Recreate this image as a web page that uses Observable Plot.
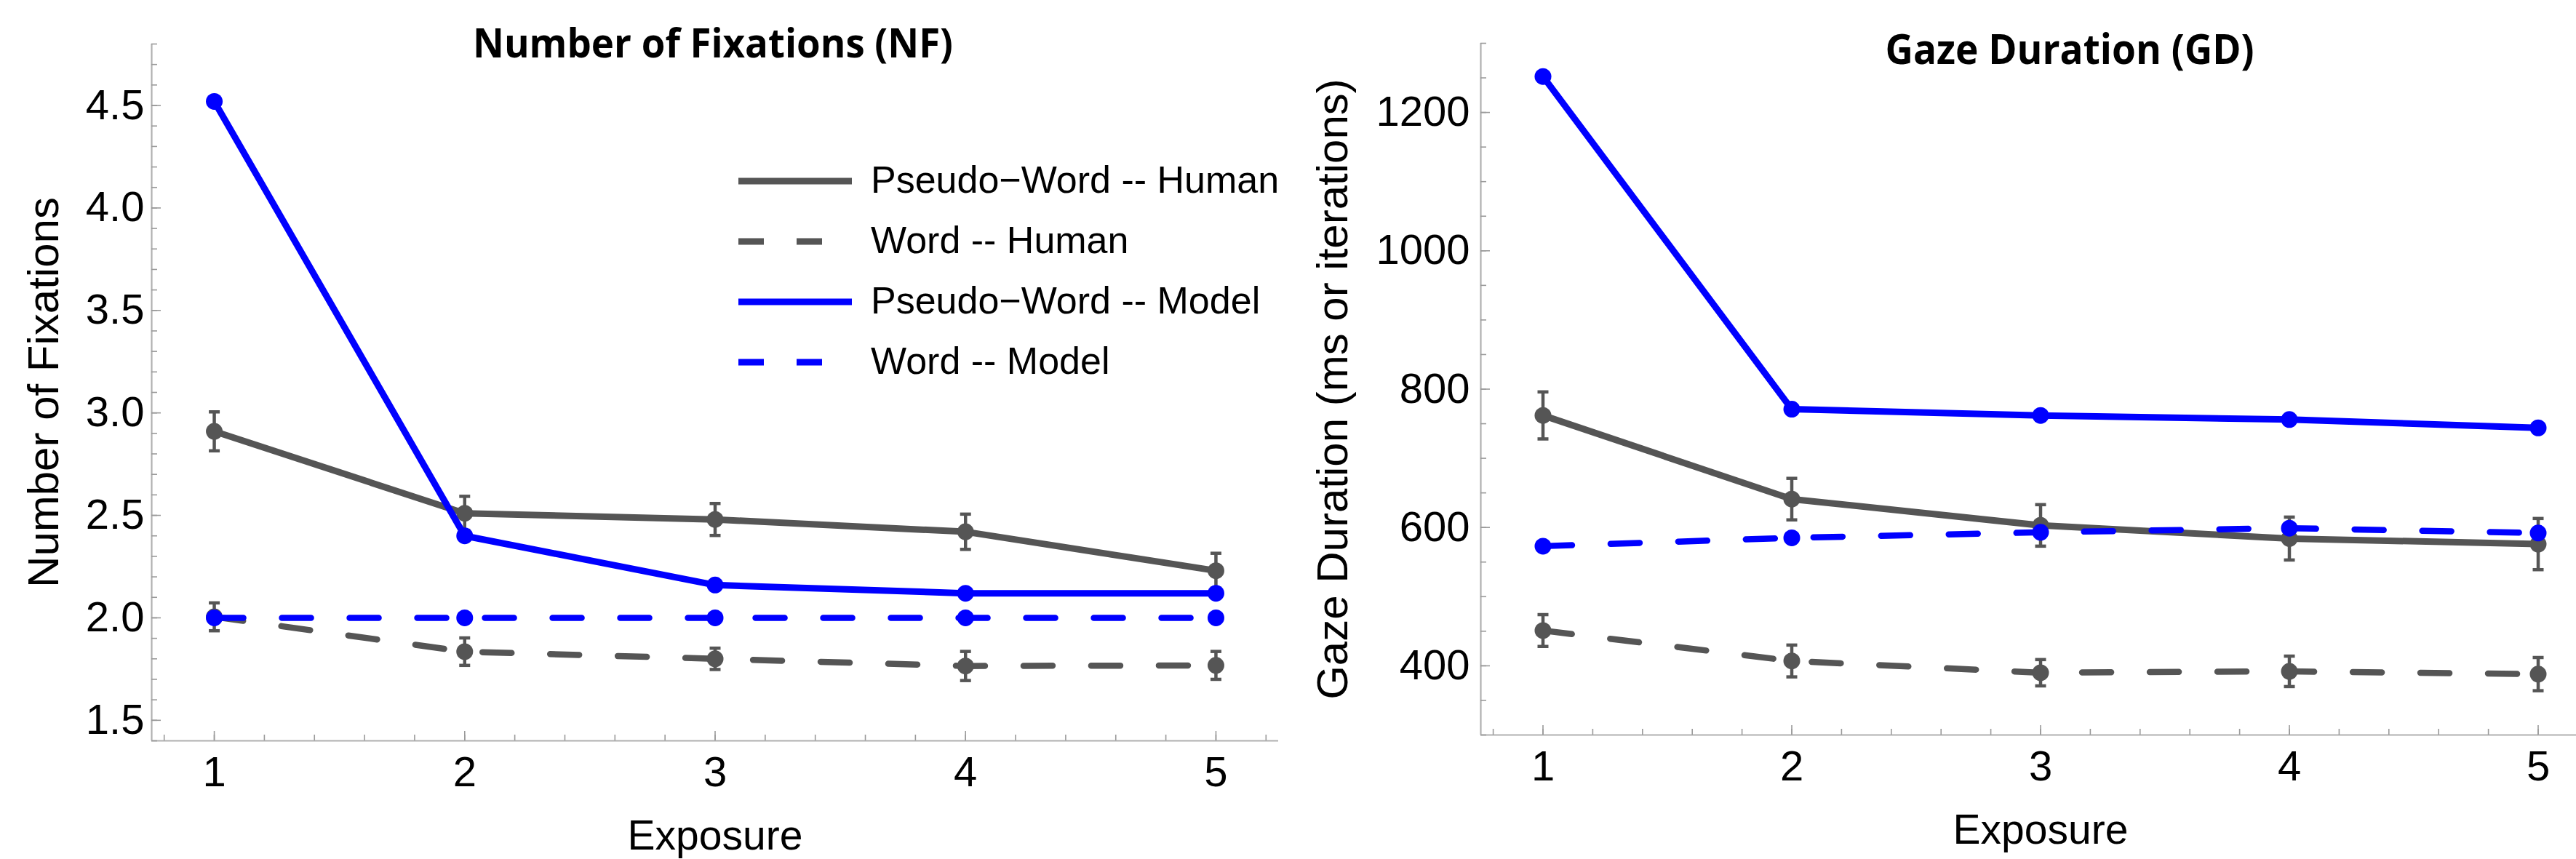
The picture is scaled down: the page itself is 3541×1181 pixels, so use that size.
<!DOCTYPE html>
<html><head><meta charset="utf-8">
<script src="https://cdn.jsdelivr.net/npm/d3@7"></script>
<script src="https://cdn.jsdelivr.net/npm/@observablehq/plot@0.6"></script>
<style>
html,body{margin:0;padding:0;background:#fff;overflow:hidden;width:3541px;height:1181px;}
#root{position:relative;width:3541px;height:1181px;overflow:hidden;background:#fff;}
.panel{position:absolute;top:0;}
</style></head><body><div id="root"></div>
<script>
// ---------- data ----------
const exposure = [1, 2, 3, 4, 5];
const seriesNames = ["Pseudo\u2212Word -- Human", "Word -- Human", "Pseudo\u2212Word -- Model", "Word -- Model"];

// Number of Fixations (NF)
const nfPseudoHuman    = [2.91, 2.51, 2.48, 2.42, 2.23];
const nfPseudoHumanErr = [0.095, 0.083, 0.078, 0.086, 0.085];
const nfWordHuman      = [2.005, 1.835, 1.80, 1.765, 1.768];
const nfWordHumanErr   = [0.068, 0.067, 0.052, 0.071, 0.068];
const nfPseudoModel    = [4.52, 2.40, 2.16, 2.12, 2.12];
const nfWordModel      = [2.0, 2.0, 2.0, 2.0, 2.0];

// Gaze Duration (GD)
const gdPseudoHuman    = [762, 641, 603, 584, 576];
const gdPseudoHumanErr = [34, 30, 30, 31, 37];
const gdWordHuman      = [451, 407, 390, 392, 388];
const gdWordHumanErr   = [23, 23, 19, 22, 24];
const gdPseudoModel    = [1252, 771, 762, 756, 744];
const gdWordModel      = [573, 585, 593, 599, 592];

// tick labels
const xTicks = [1, 2, 3, 4, 5];
const nfTicks = [1.5, 2.0, 2.5, 3.0, 3.5, 4.0, 4.5];
const gdTicks = [400, 600, 800, 1000, 1200];

// ---------- style ----------
const GRAY = "#555555", BLUE = "#0000ff", AXIS = "#b0b0b0", TICK = "#9a9a9a";
const FONT = "'Liberation Sans', Arial, Helvetica, sans-serif";

function rows(ys, errs) {
  return exposure.map((x, i) => ({x, y: ys[i], err: errs ? errs[i] : 0}));
}

const capSymbol = {
  draw(context, size) {
    const r = Math.sqrt(size / Math.PI);
    context.moveTo(-r, 0);
    context.lineTo(r, 0);
  }
};

function seriesMarks(data, color, dashed, withErr) {
  const m = [
    Plot.line(data, {x: "x", y: "y", stroke: color, strokeWidth: dashed ? 8.5 : 9,
      strokeDasharray: dashed ? "40,53" : null, strokeLinejoin: "round"})
  ];
  if (withErr) {
    m.push(
      Plot.ruleX(data, {x: "x", y1: d => d.y - d.err, y2: d => d.y + d.err, stroke: color, strokeWidth: 4.5}),
      Plot.dot(data, {x: "x", y: d => d.y + d.err, symbol: capSymbol, r: 7.5, fill: "none", stroke: color, strokeWidth: 4.5}),
      Plot.dot(data, {x: "x", y: d => d.y - d.err, symbol: capSymbol, r: 7.5, fill: "none", stroke: color, strokeWidth: 4.5})
    );
  }
  m.push(Plot.dot(data, {x: "x", y: "y", r: 11.5, fill: color, stroke: null}));
  return m;
}

function makePanel(o) {
  const fw = o.width - o.ml - o.mr, fh = o.height - o.mt - o.mb;
  const svg = Plot.plot({
    width: o.width, height: o.height,
    marginLeft: o.ml, marginRight: o.mr, marginTop: o.mt, marginBottom: o.mb,
    x: {domain: o.xDomain},
    y: {domain: o.yDomain},
    style: {fontFamily: FONT, fontSize: "58px", color: "black", background: "transparent", overflow: "visible"},
    marks: [
      Plot.ruleY([o.yDomain[0]], {stroke: AXIS, strokeWidth: 2.2}),
      Plot.ruleX([o.xDomain[0]], {stroke: AXIS, strokeWidth: 2.2}),
      Plot.tickY(o.yMinor, {y: d => d, stroke: TICK, strokeWidth: 1.6, insetRight: fw - 8}),
      Plot.tickY(o.yTicks, {y: d => d, stroke: TICK, strokeWidth: 1.6, insetRight: fw - 13}),
      Plot.tickX(o.xMinor, {x: d => d, stroke: TICK, strokeWidth: 1.6, insetTop: fh - 8}),
      Plot.tickX(xTicks, {x: d => d, stroke: TICK, strokeWidth: 1.6, insetTop: fh - 13}),
      Plot.axisY(o.yTicks, {tickSize: 0, tickPadding: o.yPad, tickFormat: o.yFormat, fontSize: 58, label: null}),
      Plot.axisX(xTicks, {tickSize: 0, tickPadding: 21, tickFormat: d => String(d), fontSize: 58, label: null}),
      ...o.series.flatMap(s => seriesMarks(s.data, s.color, s.dashed, s.err)),
      Plot.text([o.title], {text: d => d, frameAnchor: "top", lineAnchor: "bottom", textAnchor: "middle", dx: o.titleDx, dy: o.titleDy,
        fontFamily: "'Open Sans', 'Noto Sans', sans-serif", fontWeight: "bold", fontSize: o.titleSize, fill: "black"}),
      Plot.text(["Exposure"], {text: d => d, frameAnchor: "bottom", lineAnchor: "top", textAnchor: "middle", dy: 109, fontSize: 57, fill: "black"}),
      Plot.text([o.ylabel], {text: d => d, frameAnchor: "left", rotate: -90, lineAnchor: "middle", textAnchor: "middle", dx: o.ylabelDx, fontSize: 60, fill: "black"})
    ]
  });
  svg.querySelectorAll("text").forEach(t => {
    if (t.textContent === o.title) {
      t.setAttribute("textLength", o.titleLen);
      t.setAttribute("lengthAdjust", "spacingAndGlyphs");
    }
  });
  svg.classList.add("panel");
  svg.style.left = o.left + "px";
  return svg;
}

const root = document.getElementById("root");

const xMinor = d3.range(4, 27).map(d => d / 5);

root.appendChild(makePanel({
  left: 0, width: 1790, height: 1181, ml: 208, mr: 33, mt: 60, mb: 163,
  xDomain: [0.75, 5.25], yDomain: [1.4, 4.8],
  yTicks: nfTicks, yMinor: d3.range(14, 49).map(d => d / 10), xMinor,
  yFormat: d => d.toFixed(1), yPad: 10,
  title: "Number of Fixations (NF)", titleDx: -3, titleDy: 18, titleSize: 56, titleLen: 660,
  ylabel: "Number of Fixations", ylabelDx: -148,
  series: [
    {data: rows(nfPseudoHuman, nfPseudoHumanErr), color: GRAY, dashed: false, err: true},
    {data: rows(nfWordHuman, nfWordHumanErr), color: GRAY, dashed: true, err: true},
    {data: rows(nfPseudoModel), color: BLUE, dashed: false, err: false},
    {data: rows(nfWordModel), color: BLUE, dashed: true, err: false}
  ]
}));

root.appendChild(makePanel({
  left: 1790, width: 1784, height: 1181, ml: 245, mr: 0, mt: 59, mb: 171,
  xDomain: [0.75, 5.25], yDomain: [300, 1300],
  yTicks: gdTicks, yMinor: d3.range(300, 1301, 50), xMinor,
  yFormat: d3.format("d"), yPad: 15,
  title: "Gaze Duration (GD)", titleDx: 40, titleDy: 28, titleSize: 57, titleLen: 507,
  ylabel: "Gaze Duration (ms or iterations)", ylabelDx: -203,
  series: [
    {data: rows(gdPseudoHuman, gdPseudoHumanErr), color: GRAY, dashed: false, err: true},
    {data: rows(gdWordHuman, gdWordHumanErr), color: GRAY, dashed: true, err: true},
    {data: rows(gdPseudoModel), color: BLUE, dashed: false, err: false},
    {data: rows(gdWordModel), color: BLUE, dashed: true, err: false}
  ]
}));

// ---------- legend (inside left panel) ----------
const legendStyles = [
  {stroke: GRAY, dash: null}, {stroke: GRAY, dash: "35,45"},
  {stroke: BLUE, dash: null}, {stroke: BLUE, dash: "35,45"}
];
const leg = d3.select(root).append("svg")
  .attr("width", 800).attr("height", 400)
  .style("position", "absolute").style("left", "1000px").style("top", "190px");
const rowsG = leg.selectAll("g").data(seriesNames).join("g")
  .attr("transform", (d, i) => `translate(0,${59 + i * 83})`);
rowsG.append("line")
  .attr("x1", 15).attr("x2", 171).attr("y1", 0).attr("y2", 0)
  .attr("stroke", (d, i) => legendStyles[i].stroke)
  .attr("stroke-width", 9)
  .attr("stroke-dasharray", (d, i) => legendStyles[i].dash);
rowsG.append("text")
  .attr("x", 197).attr("y", 16)
  .attr("font-family", FONT).attr("font-size", 52).attr("fill", "black")
  .text(d => d);
</script>
</body></html>
